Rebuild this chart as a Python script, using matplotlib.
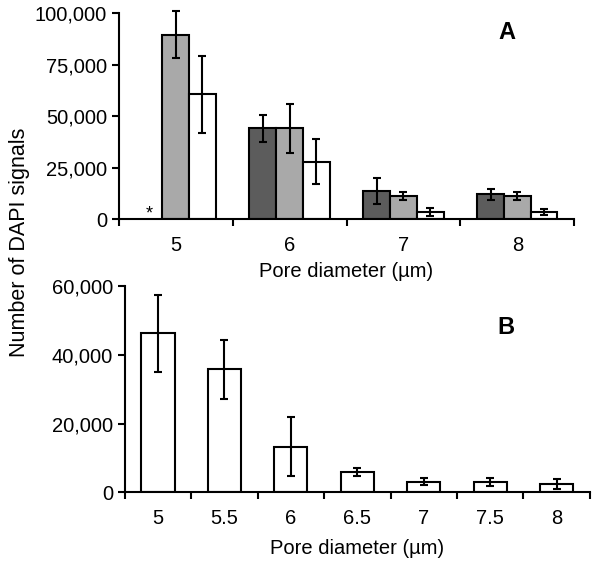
import numpy as np
import matplotlib
matplotlib.use('Agg')
import matplotlib.pyplot as plt

plt.rcParams['font.family'] = ['Liberation Sans', 'DejaVu Sans']

# panel A data
pores_a = ['5', '6', '7', '8']
dark_a = [np.nan, 44000, 13600, 12100]
dark_err = [np.nan, 6500, 6300, 2700]
gray_a = [89500, 44000, 11200, 11200]
gray_err = [11500, 12000, 2000, 1800]
white_a = [60500, 27800, 3500, 3500]
white_err = [18500, 11000, 1900, 1500]
yticks_a = [0, 25000, 50000, 75000, 100000]

# panel B data
pores_b = ['5', '5.5', '6', '6.5', '7', '7.5', '8']
vals_b = [46300, 35800, 13300, 5800, 3000, 3000, 2400]
err_b = [11200, 8600, 8700, 1200, 1000, 1200, 1400]
yticks_b = [0, 20000, 40000, 60000]

fig = plt.figure(figsize=(6, 5.69), dpi=100, facecolor='white')
axA = fig.add_axes([0.198, 0.615, 0.759, 0.362])
axB = fig.add_axes([0.208, 0.135, 0.775, 0.362])

ekw = dict(ecolor='black', elinewidth=1.5, capsize=3, capthick=1.5, clip_on=False)
w = 0.235
x = np.arange(len(pores_a))
axA.bar(x - w, dark_a, w, yerr=dark_err, color='#5c5c5c', edgecolor='black', linewidth=1.5, error_kw=ekw)
axA.bar(x, gray_a, w, yerr=gray_err, color='#a9a9a9', edgecolor='black', linewidth=1.5, error_kw=ekw)
axA.bar(x + w, white_a, w, yerr=white_err, color='white', edgecolor='black', linewidth=1.5, error_kw=ekw)
axA.text(x[0] - w, 2500, '*', ha='center', va='center', fontsize=13)
axA.set_xlim(-0.5, len(pores_a) - 0.5)
axA.set_ylim(0, 100000)
axA.set_yticks(yticks_a)
axA.set_yticklabels(['{:,}'.format(v) for v in yticks_a])
axA.text(0.853, 0.908, 'A', transform=axA.transAxes, fontsize=17, fontweight='bold', ha='center', va='center')

xb = np.arange(len(pores_b))
axB.bar(xb, vals_b, 0.5, yerr=err_b, color='white', edgecolor='black', linewidth=1.5, error_kw=ekw)
axB.set_xlim(-0.5, len(pores_b) - 0.5)
axB.set_ylim(0, 60000)
axB.set_yticks(yticks_b)
axB.set_yticklabels(['{:,}'.format(v) for v in yticks_b])
axB.text(0.82, 0.80, 'B', transform=axB.transAxes, fontsize=17, fontweight='bold', ha='center', va='center')

for ax, labels, lp in ((axA, pores_a, 5), (axB, pores_b, 8)):
    n = len(labels)
    ax.set_xticks(np.arange(n))
    ax.set_xticklabels(labels)
    ax.set_xticks(np.arange(n + 1) - 0.5, minor=True)
    ax.tick_params(axis='x', which='major', length=0, pad=12, labelsize=14.5)
    ax.tick_params(axis='x', which='minor', length=5, width=1.5, direction='out')
    ax.tick_params(axis='y', length=5, width=1.5, direction='out', labelsize=14.5)
    ax.spines['top'].set_visible(False)
    ax.spines['right'].set_visible(False)
    ax.spines['left'].set_linewidth(1.5)
    ax.spines['bottom'].set_linewidth(1.5)
    ax.set_xlabel('Pore diameter (\u00b5m)', fontsize=14.5, labelpad=lp)

fig.text(0.032, 0.575, 'Number of DAPI signals', rotation=90, fontsize=15.5, ha='center', va='center')

fig.savefig('out.png', dpi=100, facecolor='white')
